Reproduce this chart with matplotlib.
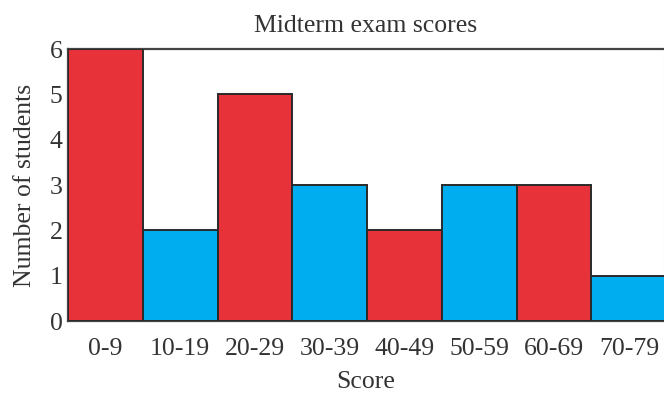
import matplotlib
matplotlib.use("Agg")
import matplotlib.pyplot as plt

categories = ["0-9", "10-19", "20-29", "30-39", "40-49", "50-59", "60-69", "70-79"]
counts = [6, 2, 5, 3, 2, 3, 3, 1]
colors = ["#E8323A", "#00AEEF", "#E8323A", "#00AEEF", "#E8323A", "#00AEEF", "#E8323A", "#00AEEF"]

plt.rcParams['font.family'] = ['Liberation Serif', 'DejaVu Serif']
FS = 18.5
TXT = "#333333"

fig = plt.figure(figsize=(6.64, 3.94), dpi=100)
ax = fig.add_axes([68/664, 1-321/394, 1-68/664, (321-49)/394])

x = list(range(len(categories)))
ax.bar(x, counts, width=1.0, color=colors, edgecolor="#2a2a2a", linewidth=1.4, zorder=3)
ax.set_xlim(-0.5, 7.47)
ax.set_ylim(0, 6)
ax.set_xticks(x)
ax.set_xticklabels(categories, fontsize=FS, color=TXT)
ax.set_yticks(range(7))
ax.set_yticklabels([str(i) for i in range(7)], fontsize=FS, color=TXT)
ax.tick_params(axis='x', length=0, pad=12)
ax.tick_params(axis='y', length=0, pad=4)
for s in ["top", "left", "bottom"]:
    ax.spines[s].set_color("#444444")
    ax.spines[s].set_linewidth(1.6)
ax.spines["right"].set_color("#dddddd")
ax.spines["right"].set_linewidth(0.8)

ax.set_title("Midterm exam scores", fontsize=FS, color=TXT, pad=12)
ax.set_xlabel("Score", fontsize=FS, color=TXT, labelpad=8)
ax.set_ylabel("Number of students", fontsize=FS, color=TXT, labelpad=10)

fig.savefig("out.png", dpi=100)
